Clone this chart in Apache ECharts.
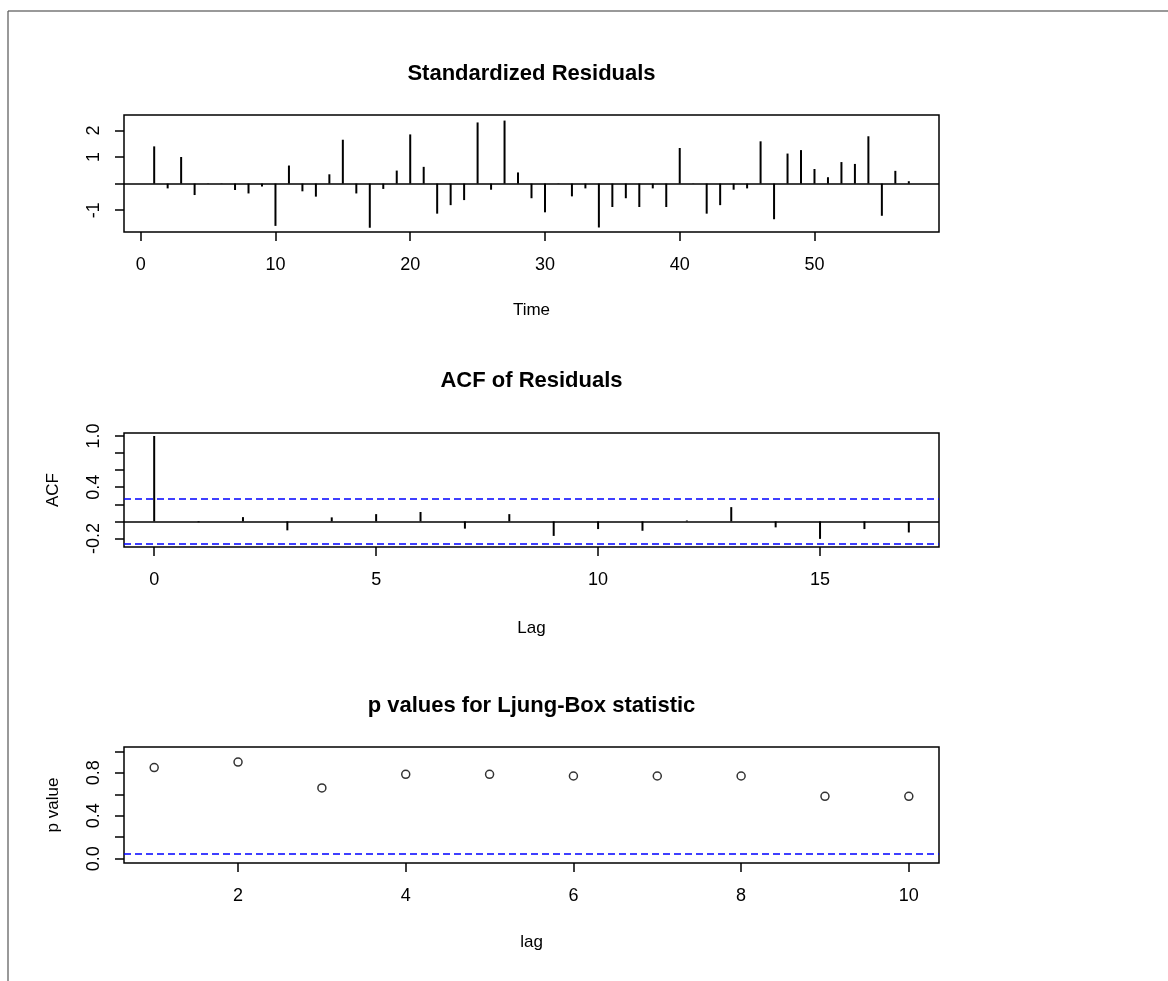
<!DOCTYPE html>
<html>
<head>
<meta charset="utf-8">
<title>Model diagnostics</title>
<script src="https://cdn.jsdelivr.net/npm/echarts@6/dist/echarts.min.js"></script>
<style>
  html, body { margin: 0; padding: 0; background: #fff; }
  #chart { width: 1168px; height: 981px; }
</style>
</head>
<body>
<div id="chart"></div>
<script>
// Standardized residuals, time index 1..57
const residuals = [1.40, -0.18, 1.00, -0.43, 0.01, -0.01, -0.24, -0.37, -0.11, -1.59,
  0.68, -0.29, -0.49, 0.35, 1.65, -0.37, -1.66, -0.20, 0.49, 1.85,
  0.63, -1.13, -0.81, -0.62, 2.30, -0.23, 2.37, 0.42, -0.55, -1.08,
  0.01, -0.48, -0.18, -1.65, -0.88, -0.55, -0.88, -0.18, -0.88, 1.34,
  0.01, -1.13, -0.81, -0.23, -0.18, 1.59, -1.34, 1.13, 1.26, 0.55,
  0.24, 0.81, 0.74, 1.78, -1.21, 0.48, 0.09];

// Autocorrelation of residuals, lags 0..17
const acfLags = [0, 1, 2, 3, 4, 5, 6, 7, 8, 9, 10, 11, 12, 13, 14, 15, 16, 17];
const acfValues = [1.0, -0.01, 0.05, -0.105, 0.047, 0.085, 0.11, -0.085, 0.085, -0.17,
  -0.09, -0.11, 0.01, 0.167, -0.07, -0.205, -0.09, -0.13];
const acfLimit = 0.26;

// Ljung-Box p values, lags 1..10
const lbLags = [1, 2, 3, 4, 5, 6, 7, 8, 9, 10];
const lbPValues = [0.848, 0.90, 0.659, 0.786, 0.786, 0.770, 0.770, 0.770, 0.581, 0.581];
const lbLevel = 0.05;

// Tick positions and labels
const residXTicks = [0, 10, 20, 30, 40, 50];
const residYTicks = [-1, 0, 1, 2];
const residYLabels = [-1, 1, 2];
const acfXTicks = [0, 5, 10, 15];
const acfYTicks = [-0.2, 0, 0.2, 0.4, 0.6, 0.8, 1.0];
const acfYLabels = [-0.2, 0.4, 1.0];
const lbXTicks = [2, 4, 6, 8, 10];
const lbYTicks = [0, 0.2, 0.4, 0.6, 0.8, 1.0];
const lbYLabels = [0, 0.4, 0.8];

const FONT = "'Liberation Sans', Arial, sans-serif";
const LABEL_SIZE = 18;
const NAME_SIZE = 17;
const TITLE_SIZE = 22;
const BOX_LEFT = 124;
const BOX_WIDTH = 815;
const CENTER_X = BOX_LEFT + BOX_WIDTH / 2;

const chart = echarts.init(document.getElementById('chart'), null, { renderer: 'canvas' });

function xAxisFor(grid, min, max, ticks, name, gap) {
  return {
    type: 'value', gridIndex: grid, min: min, max: max,
    axisLine: { show: false, onZero: false },
    splitLine: { show: false },
    axisTick: { show: true, length: 9, lineStyle: { color: '#000', width: 1.5 }, customValues: ticks },
    axisLabel: { customValues: ticks, margin: 24, color: '#000', fontFamily: FONT, fontSize: LABEL_SIZE,
      formatter: v => String(v) },
    name: name, nameLocation: 'middle', nameGap: gap,
    nameTextStyle: { color: '#000', fontFamily: FONT, fontSize: NAME_SIZE }
  };
}

function yAxisFor(grid, min, max, ticks, labels, digits, name) {
  return {
    type: 'value', gridIndex: grid, min: min, max: max,
    axisLine: { show: false, onZero: false },
    splitLine: { show: false },
    axisTick: { show: true, length: 9, lineStyle: { color: '#000', width: 1.5 }, customValues: ticks },
    axisLabel: { customValues: labels, rotate: 90, margin: 21, color: '#000', fontFamily: FONT, fontSize: LABEL_SIZE,
      formatter: v => digits ? Number(v).toFixed(digits) : String(Math.round(v)) },
    name: name, nameLocation: 'middle', nameRotate: 90, nameGap: 62,
    nameTextStyle: { color: '#000', fontFamily: FONT, fontSize: NAME_SIZE }
  };
}

function titleAt(text, top) {
  return {
    text: text, left: CENTER_X, top: top, textAlign: 'center', padding: 0,
    textStyle: { color: '#000', fontFamily: FONT, fontSize: TITLE_SIZE, fontWeight: 'bold' }
  };
}

const zeroLine = { yAxis: 0, lineStyle: { color: '#000', width: 1.5, type: 'solid' } };
const dashStyle = { color: '#0000ff', width: 1.5, type: [7, 4] };

const option = {
  animation: false,
  backgroundColor: '#fff',
  title: [
    titleAt('Standardized Residuals', 63),
    titleAt('ACF of Residuals', 370),
    titleAt('p values for Ljung-Box statistic', 695)
  ],
  grid: [
    { left: BOX_LEFT, top: 115, width: BOX_WIDTH, height: 117, show: true, borderColor: '#000', borderWidth: 1.5 },
    { left: BOX_LEFT, top: 433, width: BOX_WIDTH, height: 114, show: true, borderColor: '#000', borderWidth: 1.5 },
    { left: BOX_LEFT, top: 747, width: BOX_WIDTH, height: 116, show: true, borderColor: '#000', borderWidth: 1.5 }
  ],
  xAxis: [
    xAxisFor(0, -1.24, 59.24, residXTicks, 'Time', 70),
    xAxisFor(1, -0.68, 17.68, acfXTicks, 'Lag', 73),
    xAxisFor(2, 0.64, 10.36, lbXTicks, 'lag', 71)
  ],
  yAxis: [
    yAxisFor(0, -1.82, 2.58, residYTicks, residYLabels, 0, ''),
    yAxisFor(1, -0.30, 1.035, acfYTicks, acfYLabels, 1, 'ACF'),
    yAxisFor(2, -0.04, 1.04, lbYTicks, lbYLabels, 1, 'p value')
  ],
  series: [
    {
      type: 'bar', xAxisIndex: 0, yAxisIndex: 0, barWidth: 2,
      itemStyle: { color: '#000' },
      data: residuals.map((v, i) => [i + 1, v]),
      markLine: { silent: true, symbol: 'none', label: { show: false }, data: [zeroLine] }
    },
    {
      type: 'bar', xAxisIndex: 1, yAxisIndex: 1, barWidth: 2,
      itemStyle: { color: '#000' },
      data: acfLags.map((l, i) => [l, acfValues[i]]),
      markLine: {
        silent: true, symbol: 'none', label: { show: false },
        data: [
          zeroLine,
          { yAxis: acfLimit, lineStyle: dashStyle },
          { yAxis: -acfLimit, lineStyle: dashStyle }
        ]
      }
    },
    {
      type: 'scatter', xAxisIndex: 2, yAxisIndex: 2,
      symbol: 'circle', symbolSize: 8,
      itemStyle: { color: '#fff', borderColor: '#000', borderWidth: 1.5 },
      data: lbLags.map((l, i) => [l, lbPValues[i]]),
      markLine: {
        silent: true, symbol: 'none', label: { show: false },
        data: [{ yAxis: lbLevel, lineStyle: dashStyle }]
      }
    }
  ],
  graphic: [
    { type: 'line', shape: { x1: 8, y1: 11, x2: 1168, y2: 11 }, style: { stroke: '#777', lineWidth: 1.5 } },
    { type: 'line', shape: { x1: 8, y1: 11, x2: 8, y2: 981 }, style: { stroke: '#555', lineWidth: 1.2 } }
  ]
};

chart.setOption(option);
</script>
</body>
</html>
